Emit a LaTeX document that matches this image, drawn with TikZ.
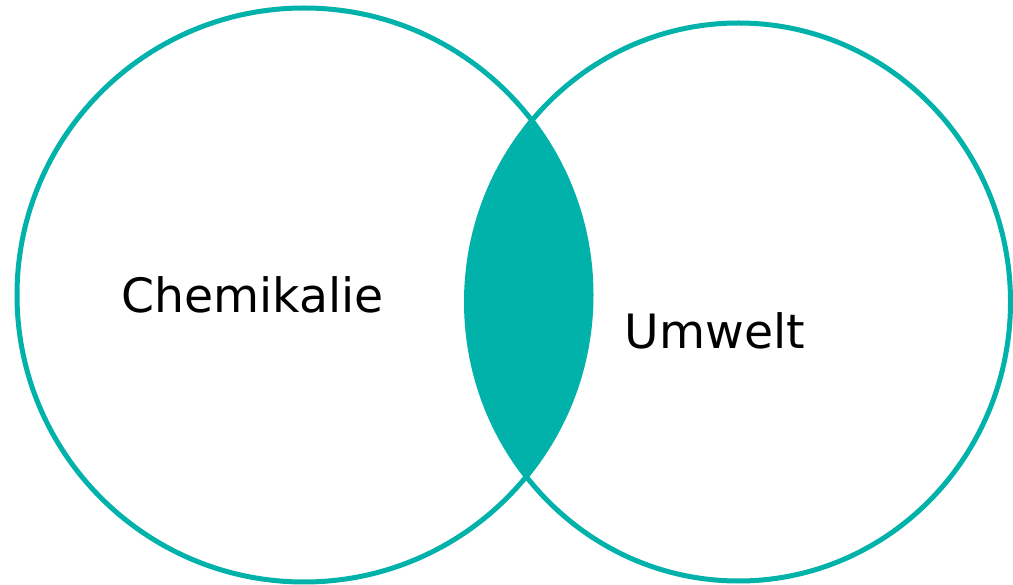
\documentclass[tikz,border=0pt]{standalone}
\usepackage{fontspec}
\setmainfont{DejaVu Sans}
\definecolor{teal1}{RGB}{0,178,170}
\begin{document}
\begin{tikzpicture}[x=1pt,y=-1pt,
  ring/.style={draw=teal1, line width=5pt},
  lbl/.style={font=\fontsize{47.3}{56}\selectfont, anchor=base, inner sep=0pt, text=black}]
\useasboundingbox (0,0) rectangle (1013,585);
\fill[white] (0,0) rectangle (1013,585);
% overlap
\begin{scope}
  \clip (304,295) circle[x radius=287pt, y radius=287pt];
  \fill[teal1] (738.5,302) ellipse[x radius=272pt, y radius=279pt];
\end{scope}
\draw[ring] (304,295) circle[x radius=287pt, y radius=287pt];
\draw[ring] (738.5,302) ellipse[x radius=272pt, y radius=279pt];
\node[lbl] (chem) at (252.5,313) {Chemikalie};
\node[lbl] (umw) at (715,349) {Umwelt};
\end{tikzpicture}
\end{document}
